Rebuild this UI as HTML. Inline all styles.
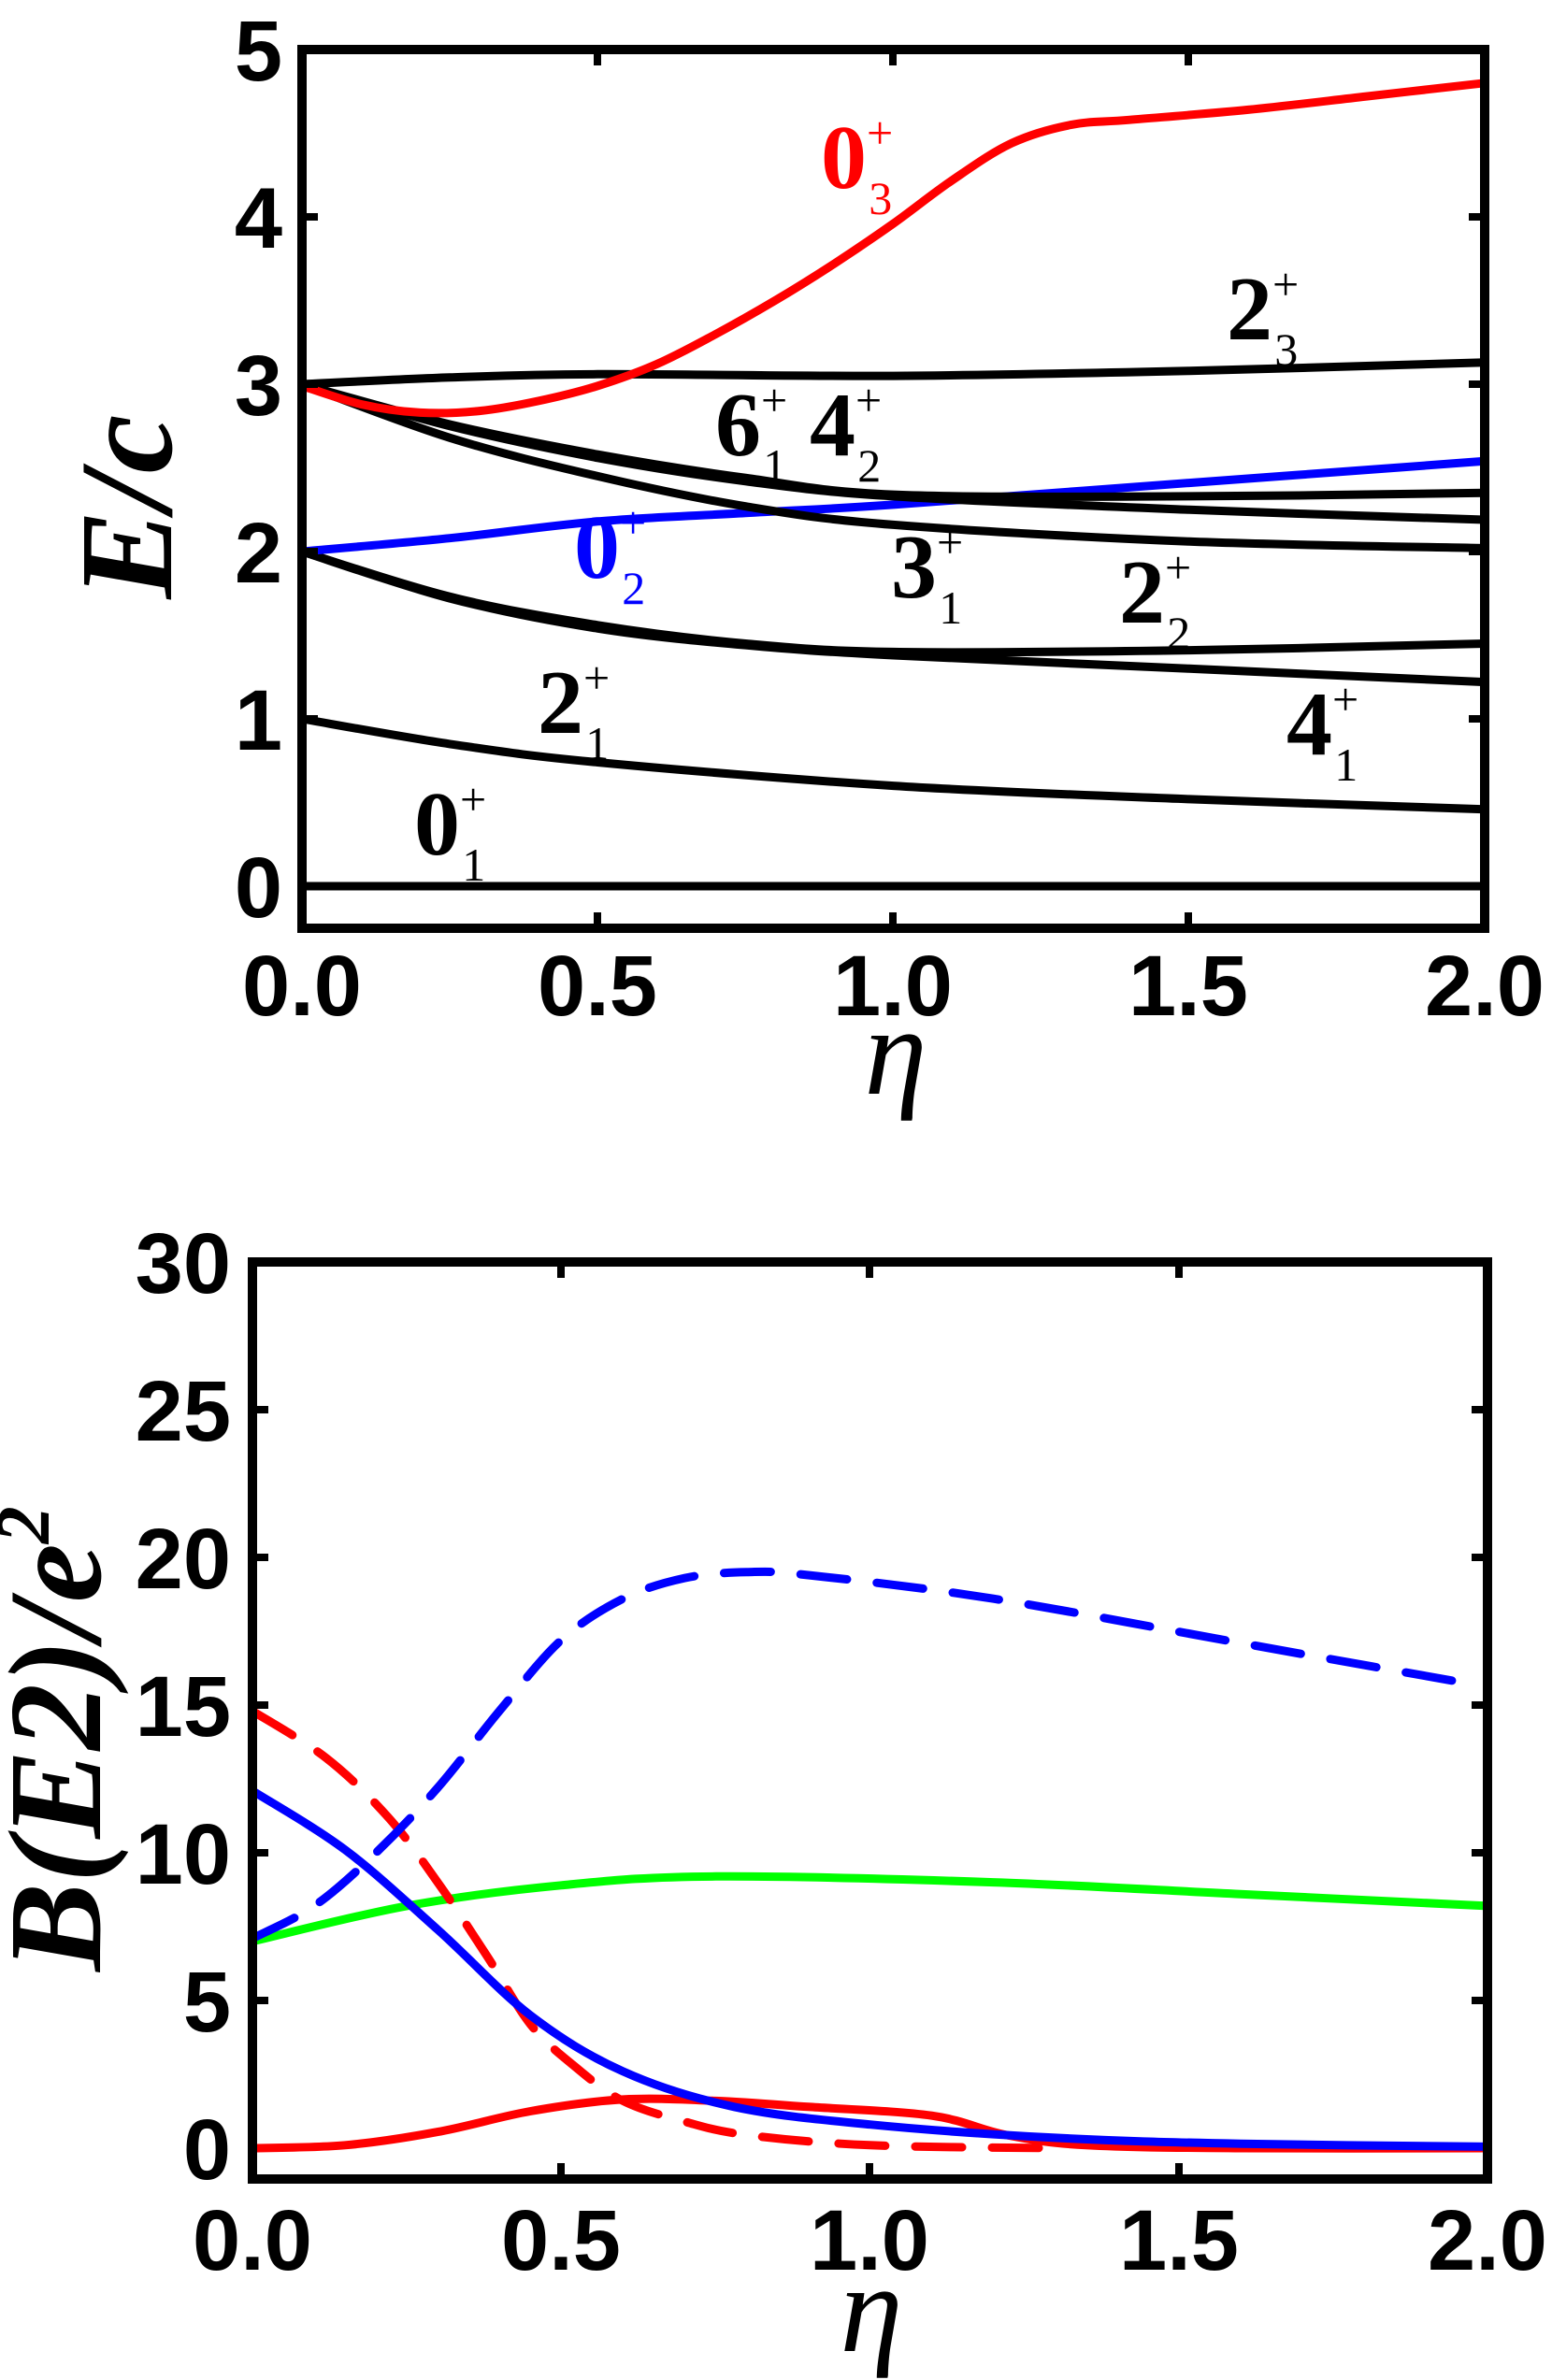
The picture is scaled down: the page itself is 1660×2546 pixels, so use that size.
<!DOCTYPE html>
<html><head><meta charset="utf-8"><style>
html,body{margin:0;padding:0;background:#fff;}
svg{display:block;}
.tk{font-family:"Liberation Sans",sans-serif;font-weight:bold;font-size:92px;}
.st{font-family:"Liberation Serif",serif;font-weight:bold;font-size:98px;}
.sp{font-size:50px;font-weight:normal;}
.ax{font-family:"Liberation Serif",serif;font-style:italic;font-weight:bold;font-size:142px;}
.eta{font-family:"Liberation Serif",serif;font-style:italic;font-size:135px;}
</style></head><body>
<svg id="s" width="1660" height="2546" viewBox="0 0 1660 2546" xmlns="http://www.w3.org/2000/svg">
<g id="curves" fill="none" stroke-width="9" stroke-linejoin="round"></g>
<rect x="323" y="53" width="1265" height="940" fill="none" stroke="#000" stroke-width="10"/>
<g stroke="#000" stroke-width="8">
<line x1="639" y1="993" x2="639" y2="976"/><line x1="955" y1="993" x2="955" y2="976"/><line x1="1271" y1="993" x2="1271" y2="976"/>
<line x1="639" y1="53" x2="639" y2="70"/><line x1="955" y1="53" x2="955" y2="70"/><line x1="1271" y1="53" x2="1271" y2="70"/>
<line x1="323" y1="769" x2="340" y2="769"/><line x1="323" y1="590" x2="340" y2="590"/><line x1="323" y1="411" x2="340" y2="411"/><line x1="323" y1="232" x2="340" y2="232"/>
<line x1="1588" y1="769" x2="1571" y2="769"/><line x1="1588" y1="590" x2="1571" y2="590"/><line x1="1588" y1="411" x2="1571" y2="411"/><line x1="1588" y1="232" x2="1571" y2="232"/>
</g>
<g class="tk" text-anchor="end">
<text x="302" y="981">0</text><text x="302" y="802">1</text><text x="302" y="623">2</text><text x="302" y="444">3</text><text x="302" y="265">4</text><text x="302" y="86">5</text>
</g>
<g class="tk" text-anchor="middle">
<text x="323" y="1086">0.0</text><text x="639" y="1086">0.5</text><text x="955" y="1086">1.0</text><text x="1271" y="1086">1.5</text><text x="1588" y="1086">2.0</text>
</g>
<text class="eta" x="958" y="1170" text-anchor="middle">η</text>
<text class="ax" transform="translate(183,542) rotate(-90)" text-anchor="middle">E/c</text>
<g class="st">
<text x="878" y="201" fill="#f00">0<tspan class="sp" dy="-42">+</tspan><tspan class="sp" dx="-26" dy="70">3</tspan></text>
<text x="1312" y="363">2<tspan class="sp" dy="-42">+</tspan><tspan class="sp" dx="-26" dy="70">3</tspan></text>
<text x="765" y="487">6<tspan class="sp" dy="-42">+</tspan><tspan class="sp" dx="-26" dy="70">1</tspan></text>
<text x="866" y="487">4<tspan class="sp" dy="-42">+</tspan><tspan class="sp" dx="-26" dy="70">2</tspan></text>
<text x="614" y="618" fill="#00f">0<tspan class="sp" dy="-42">+</tspan><tspan class="sp" dx="-26" dy="70">2</tspan></text>
<text x="953" y="639">3<tspan class="sp" dy="-42">+</tspan><tspan class="sp" dx="-26" dy="70">1</tspan></text>
<text x="1197" y="666">2<tspan class="sp" dy="-42">+</tspan><tspan class="sp" dx="-26" dy="70">2</tspan></text>
<text x="575" y="784">2<tspan class="sp" dy="-42">+</tspan><tspan class="sp" dx="-26" dy="70">1</tspan></text>
<text x="1376" y="807">4<tspan class="sp" dy="-42">+</tspan><tspan class="sp" dx="-26" dy="70">1</tspan></text>
<text x="443" y="914">0<tspan class="sp" dy="-42">+</tspan><tspan class="sp" dx="-26" dy="70">1</tspan></text>
</g>
<rect x="270" y="1350" width="1321" height="981" fill="none" stroke="#000" stroke-width="10"/>
<g stroke="#000" stroke-width="8">
<line x1="600" y1="2331" x2="600" y2="2314"/><line x1="930" y1="2331" x2="930" y2="2314"/><line x1="1261" y1="2331" x2="1261" y2="2314"/>
<line x1="600" y1="1350" x2="600" y2="1367"/><line x1="930" y1="1350" x2="930" y2="1367"/><line x1="1261" y1="1350" x2="1261" y2="1367"/>
<line x1="270" y1="2140" x2="287" y2="2140"/><line x1="270" y1="1982" x2="287" y2="1982"/><line x1="270" y1="1824" x2="287" y2="1824"/><line x1="270" y1="1666" x2="287" y2="1666"/><line x1="270" y1="1508" x2="287" y2="1508"/>
<line x1="1591" y1="2140" x2="1574" y2="2140"/><line x1="1591" y1="1982" x2="1574" y2="1982"/><line x1="1591" y1="1824" x2="1574" y2="1824"/><line x1="1591" y1="1666" x2="1574" y2="1666"/><line x1="1591" y1="1508" x2="1574" y2="1508"/>
</g>
<g class="tk" text-anchor="end">
<text x="247" y="2331">0</text><text x="247" y="2173">5</text><text x="247" y="2015">10</text><text x="247" y="1857">15</text><text x="247" y="1699">20</text><text x="247" y="1541">25</text><text x="247" y="1383">30</text>
</g>
<g class="tk" text-anchor="middle">
<text x="270" y="2428">0.0</text><text x="600" y="2428">0.5</text><text x="930" y="2428">1.0</text><text x="1261" y="2428">1.5</text><text x="1591" y="2428">2.0</text>
</g>
<text class="eta" x="932" y="2515" text-anchor="middle">η</text>
<text class="ax" transform="translate(107,1860) rotate(-90)" text-anchor="middle">B(E2)/e<tspan font-size="80" dy="-55">2</tspan></text>
</svg>
<script>
function path(pts,X,Y){
  var p=pts.map(function(a){return [X(a[0]),Y(a[1])];});
  var d="M"+p[0][0].toFixed(1)+","+p[0][1].toFixed(1);
  for(var i=0;i<p.length-1;i++){
    var p0=p[i-1]||p[i],p1=p[i],p2=p[i+1],p3=p[i+2]||p[i+1];
    var c1=[p1[0]+(p2[0]-p0[0])/6,p1[1]+(p2[1]-p0[1])/6];
    var c2=[p2[0]-(p3[0]-p1[0])/6,p2[1]-(p3[1]-p1[1])/6];
    d+=" C"+c1[0].toFixed(1)+","+c1[1].toFixed(1)+" "+c2[0].toFixed(1)+","+c2[1].toFixed(1)+" "+p2[0].toFixed(1)+","+p2[1].toFixed(1);
  }
  return d;
}
var g=document.getElementById("curves");
function add(pts,X,Y,col,dash){
  var e=document.createElementNS("http://www.w3.org/2000/svg","path");
  e.setAttribute("d",path(pts,X,Y));e.setAttribute("stroke",col);
  if(dash){e.setAttribute("stroke-dasharray",dash);e.setAttribute("stroke-linecap","round");}
  g.appendChild(e);
}
var TX=function(x){return 323+632.5*x},TY=function(y){return 948-179*y};
var BX=function(x){return 270+660.5*x},BY=function(y){return 2298-31.6*y};
add([[0,0],[2,0]],TX,TY,"#000");
add([[0,1],[0.25,0.85],[0.5,0.74],[1,0.6],[1.5,0.52],[2,0.46]],TX,TY,"#000");
add([[0,2],[0.25,1.72],[0.5,1.54],[0.75,1.44],[1,1.38],[1.5,1.3],[2,1.22]],TX,TY,"#000");
add([[0,2],[0.25,1.73],[0.5,1.56],[0.75,1.45],[1,1.4],[1.5,1.41],[2,1.45]],TX,TY,"#000");
add([[0,2],[0.25,2.08],[0.5,2.18],[0.75,2.23],[1,2.28],[1.5,2.41],[2,2.54]],TX,TY,"#00f");
add([[0,3],[0.25,2.68],[0.5,2.45],[0.75,2.27],[1,2.16],[1.5,2.06],[2,2.02]],TX,TY,"#000");
add([[0,3],[0.25,2.75],[0.5,2.56],[0.75,2.42],[1,2.33],[1.5,2.25],[2,2.19]],TX,TY,"#000");
add([[0,3],[0.25,2.76],[0.5,2.58],[0.75,2.44],[1,2.34],[1.5,2.33],[2,2.35]],TX,TY,"#000");
add([[0,3],[0.25,3.04],[0.5,3.06],[1,3.05],[1.5,3.08],[2,3.13]],TX,TY,"#000");
add([[0,2.99],[0.1,2.88],[0.2,2.83],[0.3,2.84],[0.4,2.9],[0.5,2.99],[0.6,3.12],[0.7,3.3],[0.8,3.5],[0.9,3.72],[1.0,3.96],[1.1,4.22],[1.2,4.44],[1.3,4.55],[1.4,4.58],[1.6,4.64],[1.8,4.72],[2,4.8]],TX,TY,"#f00");
add([[0,7.0],[0.25,8.2],[0.5,8.9],[0.75,9.2],[1.2,9.0],[1.6,8.6],[2,8.2]],BX,BY,"#0f0");
add([[0,14.8],[0.12,13.2],[0.22,11.2],[0.3,9.0],[0.38,6.5],[0.45,4.2],[0.52,2.8],[0.6,1.6],[0.7,0.9],[0.8,0.45],[1.0,0.1],[1.3,0]],BX,BY,"#f00","50 32");
add([[0,7.1],[0.1,8.2],[0.2,10.0],[0.3,12.2],[0.4,14.8],[0.5,17.2],[0.6,18.6],[0.7,19.3],[0.8,19.5],[0.9,19.4],[1.2,18.6],[1.6,17.1],[1.95,15.8]],BX,BY,"#00f","50 32");
add([[0,0],[0.15,0.1],[0.3,0.55],[0.45,1.25],[0.6,1.65],[0.75,1.6],[0.9,1.4],[1.1,1.1],[1.22,0.45],[1.35,0.1],[1.6,0],[2,0]],BX,BY,"#f00");
add([[0,12.1],[0.15,10.1],[0.3,7.4],[0.45,4.5],[0.6,2.6],[0.78,1.4],[1.0,0.8],[1.3,0.35],[1.6,0.15],[2,0.05]],BX,BY,"#00f");
</script>
</body></html>
